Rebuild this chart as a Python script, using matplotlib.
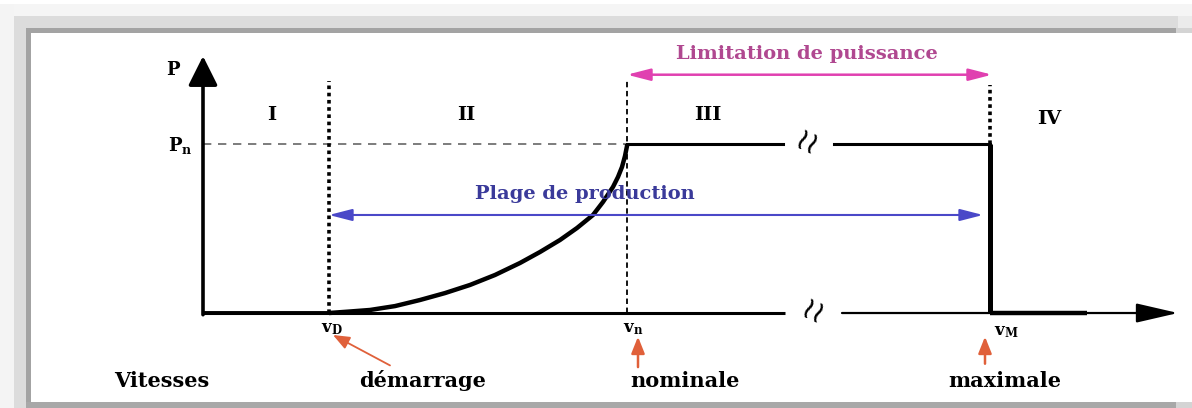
import numpy as np
import matplotlib.pyplot as plt
from matplotlib.patches import Rectangle

plt.rcParams['font.family'] = ['DejaVu Serif', 'DejaVu Sans']
plt.rcParams['mathtext.fontset'] = 'dejavuserif'

# characteristic speeds (arbitrary units) and nominal power
v_D = 1.26
v_n = 4.24
v_M = 7.87
P_n = 1.0

# power curve between v_D and v_n
curve_v = [1.26, 1.47, 1.67, 1.92, 2.17, 2.42, 2.67, 2.92, 3.17, 3.37, 3.57, 3.74,
           3.90, 4.00, 4.10, 4.15, 4.19, 4.22, 4.24, 4.24]
curve_p = [0.0, 0.009, 0.018, 0.041, 0.077, 0.118, 0.166, 0.225, 0.296, 0.361, 0.432, 0.503,
           0.580, 0.657, 0.746, 0.805, 0.864, 0.929, 0.988, 1.0]

regions = ['I', 'II', 'III', 'IV']
region_x = [0.69, 2.63, 5.05, 8.46]
region_y = [1.17, 1.17, 1.17, 1.145]

speed_names = ['Vitesses', 'démarrage', 'nominale', 'maximale']
speed_name_x = [-0.41, 2.20, 4.82, 8.02]

W, H = 1192, 408
fig = plt.figure(figsize=(W / 100, H / 100), dpi=100)


def frame_rect(x0, y0, x1, y1, color):
    # pixel box (top-left origin) -> figure fraction
    fig.patches.append(Rectangle((x0 / W, 1 - y1 / H), (x1 - x0) / W, (y1 - y0) / H,
                                 transform=fig.transFigure, color=color, lw=0, zorder=0))


# shaded page frame
frame_rect(0, 4, 1192, 16, '#f5f5f5')
frame_rect(0, 4, 14, 408, '#f4f4f4')
frame_rect(14, 16, 1178, 28, '#dcdcdc')
frame_rect(1178, 16, 1192, 28, '#ebebeb')
frame_rect(14, 16, 26, 408, '#dcdcdc')
frame_rect(26, 28, 1176, 33, '#a3a3a3')
frame_rect(26, 28, 31, 403, '#a3a3a3')
frame_rect(26, 402, 1176, 408, '#a8a8a8')
frame_rect(1176, 28, 1192, 33, '#d4d4d4')
frame_rect(1176, 402, 1192, 408, '#d4d4d4')

ax = fig.add_axes([0, 0, 1, 1])
ax.set_xlim(-2.03, 9.89)
ax.set_ylim(-0.562, 1.852)
ax.axis('off')
ax.patch.set_alpha(0)

# axes with arrows
ax.annotate('', xy=(0, 1.52), xytext=(0, -0.01),
            arrowprops=dict(arrowstyle='-|>,head_length=0.9,head_width=0.45', color='black',
                            lw=2.6, shrinkA=0, shrinkB=0, mutation_scale=20))
ax.plot([0, 5.82], [0, 0], color='black', lw=2.2, solid_capstyle='butt')
ax.annotate('', xy=(9.75, 0), xytext=(6.39, 0),
            arrowprops=dict(arrowstyle='-|>,head_length=1.3,head_width=0.3', color='black',
                            lw=1.6, shrinkA=0, shrinkB=0, mutation_scale=20))
ax.plot([0, v_D], [0, 0], color='black', lw=2.8, solid_capstyle='butt')

# axis break marks
ax.text(6.10, 0, '≀≀', ha='center', va='center', fontsize=22, color='black',
        family=['DejaVu Sans'], rotation=-25)
ax.text(6.04, P_n, '≀≀', ha='center', va='center', fontsize=22, color='black',
        family=['DejaVu Sans'], rotation=-25)

# reference lines
ax.plot([0, v_n], [P_n, P_n], color='#666666', lw=1.2, dashes=(5, 4))
ax.plot([v_D, v_D], [0, 1.37], color='black', lw=2.6, linestyle=(0, (1, 1)))
ax.plot([v_n, v_n], [0, 1.37], color='black', lw=1.3, linestyle=(0, (3, 2)))
ax.plot([v_M, v_M], [P_n, 1.35], color='black', lw=2.6, linestyle=(0, (1, 1)))

# power characteristic
ax.plot(curve_v, curve_p, color='black', lw=3.2, solid_capstyle='butt', solid_joinstyle='round')
ax.plot([v_n, 5.80], [P_n, P_n], color='black', lw=2.2)
ax.plot([6.31, v_M], [P_n, P_n], color='black', lw=2.2)
ax.plot([v_M, v_M], [P_n, 0], color='black', lw=3.6, solid_capstyle='butt')
ax.plot([v_M, 8.84], [0, 0], color='black', lw=3.2, solid_capstyle='butt')

# range arrows
ax.annotate('', xy=(v_D, 0.58), xytext=(7.80, 0.58),
            arrowprops=dict(arrowstyle='<|-|>,head_length=0.7,head_width=0.18', color='#4a48c8',
                            lw=1.5, shrinkA=0, shrinkB=0, mutation_scale=20))
ax.text(3.82, 0.705, 'Plage de production', ha='center', va='center',
        fontsize=14, color='#3a3a9a', fontweight='semibold')
ax.annotate('', xy=(v_n, 1.41), xytext=(7.89, 1.41),
            arrowprops=dict(arrowstyle='<|-|>,head_length=0.7,head_width=0.18', color='#e040b0',
                            lw=1.8, shrinkA=0, shrinkB=0, mutation_scale=20))
ax.text(6.04, 1.53, 'Limitation de puissance', ha='center', va='center',
        fontsize=14, color='#b04890', fontweight='semibold')

# region numerals
for lab, x, y in zip(regions, region_x, region_y):
    ax.text(x, y, lab, ha='center', va='center', fontsize=14, fontweight='bold')

# axis labels
ax.text(-0.30, 1.44, 'P', ha='center', va='center', fontsize=13, fontweight='bold')
ax.text(-0.23, 0.99, r'$\mathbf{P}_\mathbf{n}$', ha='center', va='center', fontsize=13)
ax.text(v_D + 0.03, -0.09, r'$\mathbf{v}_\mathbf{D}$', ha='center', va='center', fontsize=12)
ax.text(v_n + 0.06, -0.09, r'$\mathbf{v}_\mathbf{n}$', ha='center', va='center', fontsize=12)
ax.text(v_M + 0.16, -0.11, r'$\mathbf{v}_\mathbf{M}$', ha='center', va='center', fontsize=12)

for lab, x in zip(speed_names, speed_name_x):
    ax.text(x, -0.40, lab, ha='center', va='center', fontsize=15, fontweight='bold')

# pointers to the characteristic speeds
red = '#e0603a'
ax.annotate('', xy=(v_D + 0.04, -0.13), xytext=(1.87, -0.31),
            arrowprops=dict(arrowstyle='-|>,head_length=0.5,head_width=0.2', color=red,
                            lw=1.3, shrinkA=0, shrinkB=0, mutation_scale=20))
ax.annotate('', xy=(v_n + 0.11, -0.14), xytext=(v_n + 0.11, -0.32),
            arrowprops=dict(arrowstyle='-|>,head_length=0.5,head_width=0.2', color=red,
                            lw=1.8, shrinkA=0, shrinkB=0, mutation_scale=20))
ax.annotate('', xy=(v_M - 0.05, -0.14), xytext=(v_M - 0.05, -0.30),
            arrowprops=dict(arrowstyle='-|>,head_length=0.5,head_width=0.2', color=red,
                            lw=1.8, shrinkA=0, shrinkB=0, mutation_scale=20))

fig.savefig('out.png', dpi=100)
